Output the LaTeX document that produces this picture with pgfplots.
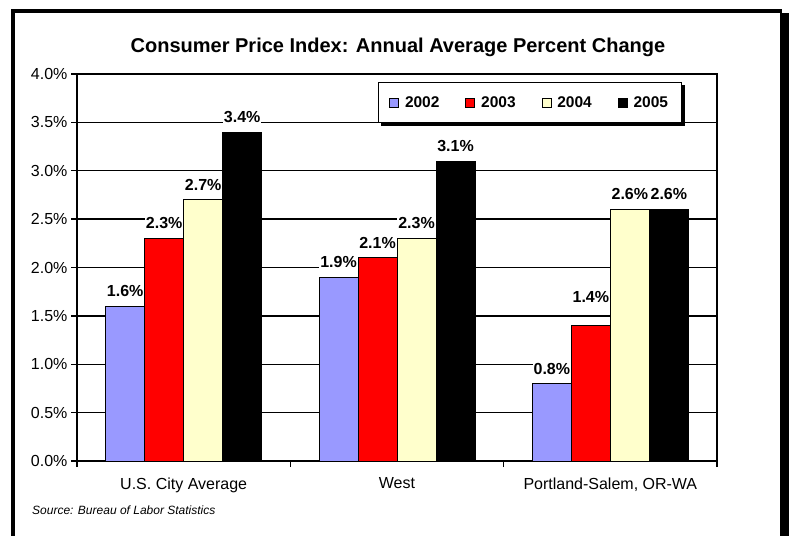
\documentclass[border=0pt]{standalone}
\usepackage{fontspec}
\setmainfont{Liberation Sans}
\usepackage{pgfplots}
\pgfplotsset{compat=1.18}

\definecolor{c2002}{RGB}{153,153,255}
\definecolor{c2003}{RGB}{255,0,0}
\definecolor{c2004}{RGB}{255,255,204}
\definecolor{c2005}{RGB}{0,0,0}

\pgfplotsset{
  sq legend/.style={legend image code/.code={%
    \draw[##1,line width=0.6pt] (0pt,-4.5pt) rectangle (9pt,4.5pt);
    \path (13pt,0pt);}},
}

\begin{document}
\begin{tikzpicture}
\fill[white] (0,0) rectangle (789pt,-535pt);
\path[use as bounding box] (0,0) rectangle (789pt,-535pt);
\begin{scope}
  \clip (0,0) rectangle (789pt,-535pt);
  \fill[black] (780pt,-13pt) rectangle (789pt,-540pt);
  \draw[line width=4pt] (13pt,-545pt) -- (13pt,-11pt) -- (782pt,-11pt);
\end{scope}
\node[font=\bfseries\fontsize{20}{24}\selectfont] at (398pt,-47pt) {Consumer Price Index: Annual Average Percent Change};
\node[font=\itshape\fontsize{12}{14}\selectfont, anchor=west, inner sep=0pt] at (32pt,-510pt) {Source: Bureau of Labor Statistics};

\begin{axis}[
  at={(77pt,-461pt)}, anchor=south west,
  scale only axis, width=640pt, height=387pt,
  ybar=0pt, bar width=39pt,
  xmin=-0.5, xmax=2.5, ymin=0, ymax=4,
  /pgf/number format/assume math mode=true,
  axis line style={line width=1.3pt},
  tick align=outside, tick pos=left,
  major tick length=6pt,
  tick style={black, line width=1.3pt},
  xtick={-0.5,0.5,1.5,2.5}, xticklabels={},
  extra x ticks={0,1,2},
  extra x tick labels={U.S. City Average, West, {Portland-Salem, OR-WA}},
  extra x tick style={major tick length=0pt, xticklabel style={yshift=-13pt}},
  ytick={0,0.5,...,4},
  yticklabel={\pgfmathprintnumber[fixed,fixed zerofill,precision=1]{\tick}\%},
  ticklabel style={font=\fontsize{16}{19}\selectfont},
  ymajorgrids, grid style={black, line width=1.3pt},
  nodes near coords={\pgfmathprintnumber[fixed,fixed zerofill,precision=1]{\pgfplotspointmeta}\%},
  every node near coord/.append style={font=\bfseries\fontsize{16}{19}\selectfont, fill=white, inner sep=1pt, yshift=8pt},
  legend columns=4,
  legend style={name=leg, at={(0.470,0.979)}, anchor=north west, draw=black, line width=1pt,
    fill=white, font=\bfseries\fontsize{15.5}{18}\selectfont,
    inner xsep=11pt, inner ysep=12pt,
    /tikz/every even column/.append style={column sep=24pt}},
]
\addplot[fill=c2002, draw=black, line width=0.8pt, sq legend] coordinates {(0,1.6) (1,1.9) (2,0.8)};
\addplot[fill=c2003, draw=black, line width=0.8pt, sq legend,
  visualization depends on={x \as \xv},
  every node near coord/.append style={yshift={\xv>1.5 ? 14 : 0}}] coordinates {(0,2.3) (1,2.1) (2,1.4)};
\addplot[fill=c2004, draw=black, line width=0.8pt, sq legend] coordinates {(0,2.7) (1,2.3) (2,2.6)};
\addplot[fill=c2005, draw=black, line width=0.8pt, sq legend] coordinates {(0,3.4) (1,3.1) (2,2.6)};
\legend{2002,2003,2004,2005}
\end{axis}
\fill[black] ([yshift=-3pt]leg.north east) rectangle ([xshift=3pt,yshift=-3pt]leg.south east);
\fill[black] ([xshift=3pt]leg.south west) rectangle ([xshift=3pt,yshift=-3pt]leg.south east);
\end{tikzpicture}
\end{document}
